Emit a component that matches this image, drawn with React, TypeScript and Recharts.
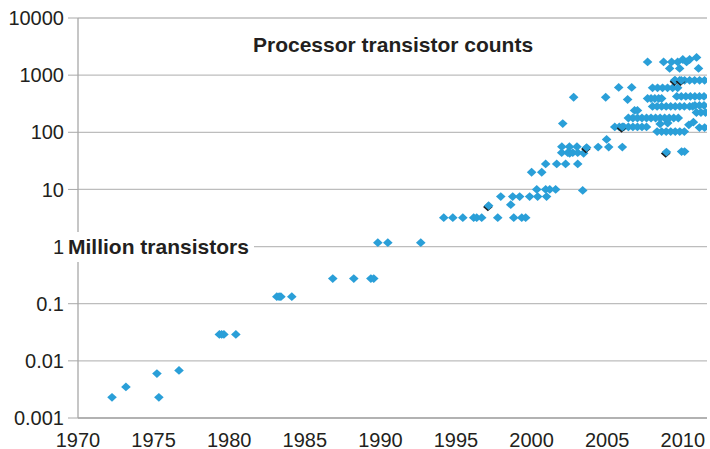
import { ScatterChart, Scatter, XAxis, YAxis, CartesianGrid } from 'recharts';

// [year, transistors in millions]
const chips1970s: [number, number][] = [
  [1972.25, 0.0023], [1973.17, 0.0035], [1975.22, 0.006], [1975.35, 0.0023], [1976.68, 0.0068],
  [1979.35, 0.029], [1979.5, 0.029], [1979.65, 0.029],
];

const chips1980s: [number, number][] = [
  [1980.44, 0.029], [1983.15, 0.133], [1983.3, 0.133], [1983.42, 0.133], [1984.14, 0.133],
  [1986.85, 0.275], [1988.24, 0.275], [1989.37, 0.275], [1989.56, 0.275], [1989.83, 1.17],
];

const chips1990s: [number, number][] = [
  [1990.49, 1.17], [1992.67, 1.17],
  [1994.19, 3.2], [1994.79, 3.2], [1995.45, 3.2], [1996.17, 3.2], [1996.37, 3.2], [1996.7, 3.2],
  [1997.76, 3.2], [1998.82, 3.2], [1999.35, 3.2], [1999.61, 3.2],
  [1997.96, 7.5], [1998.75, 7.5], [1999.21, 7.5], [1999.87, 7.5], [1998.62, 5.4],
];

const chips2000s: [number, number][] = [
  [2000.4, 7.5], [2000.99, 7.5],
  [2000.34, 10], [2000.93, 10], [2001.2, 10], [2001.59, 10], [2003.38, 9.6],
  [2000.0, 20], [2000.67, 20],
  [2000.93, 28], [2001.66, 28], [2002.25, 28], [2003.05, 28],
  [2001.99, 44], [2002.39, 44], [2002.52, 43], [2002.72, 44], [2003.05, 44], [2003.44, 43],
  [2002.0, 56], [2002.5, 56], [2003.0, 56],
  [2002.06, 142], [2002.78, 410], [2004.9, 410], [2004.96, 75],
  [2004.4, 55], [2005.1, 55], [2006.0, 55],
];

const chips2005on: [number, number][] = [
  [2005.5, 124], [2005.8, 124], [2006.1, 124], [2006.4, 124], [2006.7, 124], [2007.0, 124], [2007.3, 124], [2007.6, 124],
  [2008.3, 103], [2008.6, 103], [2008.9, 103], [2009.2, 103], [2009.5, 103], [2009.8, 103], [2010.1, 103],
  [2008.5, 140], [2009.0, 145], [2010.4, 135], [2010.7, 150],
  [2011.1, 121], [2011.44, 121],
  [2006.4, 178], [2006.7, 178], [2007.0, 178], [2007.3, 178], [2007.6, 178], [2007.9, 178],
  [2008.2, 178], [2008.5, 178], [2008.8, 178], [2009.1, 178], [2009.4, 178], [2009.7, 178],
  [2006.81, 241], [2007.0, 241],
  [2010.9, 222], [2011.2, 222], [2011.5, 222],
  [2008.0, 283], [2008.3, 283], [2008.6, 283], [2008.9, 283], [2009.2, 283], [2009.5, 283],
  [2009.8, 283], [2010.1, 283], [2010.45, 283], [2010.65, 283],
  [2010.8, 295], [2011.1, 295], [2011.4, 295],
  [2007.67, 390], [2007.9, 390], [2008.15, 390], [2008.4, 390], [2008.6, 390],
  [2009.6, 424], [2009.9, 424], [2010.2, 424], [2010.5, 424], [2010.8, 424], [2011.1, 424], [2011.4, 424],
  [2006.35, 375],
  [2005.76, 610], [2006.62, 610],
  [2008.0, 600], [2008.33, 600], [2008.66, 600], [2008.99, 600], [2009.33, 600], [2009.66, 600],
  [2009.46, 810], [2009.79, 810], [2010.12, 810], [2010.45, 810], [2010.78, 810], [2011.11, 810], [2011.44, 810],
  [2007.67, 1700], [2008.73, 1700], [2009.26, 1700], [2009.66, 1700], [2010.25, 1700], [2010.91, 2040],
  [2010.0, 1880], [2010.45, 1880],
  [2009.13, 1310], [2009.79, 1310], [2011.04, 1310],
  [2009.92, 46], [2010.12, 46],
];

const shadowed: [number, number][] = [
  [1997.16, 5.2], [2003.64, 54], [2008.92, 45], [2006.0, 124], [2009.5, 810], [2009.9, 810],
];

const xTicks = [1970, 1975, 1980, 1985, 1990, 1995, 2000, 2005, 2010];
const yTicks = [0.001, 0.01, 0.1, 1, 10, 100, 1000, 10000];

const toRows = (pts: [number, number][]) => pts.map(([year, count]) => ({ year, count }));
const mainData = toRows([...chips1970s, ...chips1980s, ...chips1990s, ...chips2000s, ...chips2005on]);
const darkData = toRows(shadowed);

const BLUE = '#2a9fd8';
const TEXT = '#231f20';
const FONT = '"Liberation Sans", Arial, Helvetica, sans-serif';

const diamond = (cx: number, cy: number) =>
  `${cx},${cy - 4.4} ${cx + 4.8},${cy} ${cx},${cy + 4.4} ${cx - 4.8},${cy}`;

const Marker = (props: any) => {
  const { cx, cy } = props;
  if (cx == null || cy == null) return <g />;
  return <polygon points={diamond(cx, cy)} fill={BLUE} />;
};

const DarkMarker = (props: any) => {
  const { cx, cy } = props;
  if (cx == null || cy == null) return <g />;
  return (
    <g>
      <polygon points={diamond(cx - 0.8, cy + 1.3)} fill="#1b1b1b" />
      <polygon points={diamond(cx, cy)} fill={BLUE} />
    </g>
  );
};

export default function App() {
  return (
    <div style={{ position: 'fixed', left: 0, top: 0, width: 710, height: 449, background: '#fff', fontFamily: FONT }}>
      <ScatterChart width={710} height={449} margin={{ top: 18, right: 3, bottom: 0, left: 0 }}>
        <CartesianGrid vertical={false} stroke="#bdbdbd" strokeWidth={1.3} />
        <XAxis
          type="number"
          dataKey="year"
          domain={[1970, 2011.6]}
          ticks={xTicks}
          allowDataOverflow
          height={31}
          tickLine={false}
          tickMargin={9}
          axisLine={{ stroke: '#a8a8a8', strokeWidth: 1.3 }}
          tick={{ fill: TEXT, fontSize: 20, fontFamily: FONT }}
        />
        <YAxis
          type="number"
          dataKey="count"
          scale="log"
          domain={[0.001, 10000]}
          ticks={yTicks}
          allowDataOverflow
          width={78}
          tickSize={10}
          tickMargin={4}
          tickFormatter={(v: number) => String(v)}
          tickLine={{ stroke: '#a8a8a8' }}
          axisLine={{ stroke: '#a8a8a8', strokeWidth: 1.3 }}
          tick={{ fill: TEXT, fontSize: 20, fontFamily: FONT }}
        />
        <Scatter data={mainData} shape={Marker} isAnimationActive={false} />
        <Scatter data={darkData} shape={DarkMarker} isAnimationActive={false} />
      </ScatterChart>
      <svg width={710} height={449} style={{ position: 'absolute', left: 0, top: 0, pointerEvents: 'none' }}>
        <text x={253} y={52} fill={TEXT} fontSize={21} fontWeight="bold" fontFamily={FONT}>
          Processor transistor counts
        </text>
        <rect x={68} y={232} width={186} height={30} fill="#fff" />
        <text x={68} y={254} fill={TEXT} fontSize={21} fontWeight="bold" fontFamily={FONT}>
          Million transistors
        </text>
      </svg>
    </div>
  );
}
